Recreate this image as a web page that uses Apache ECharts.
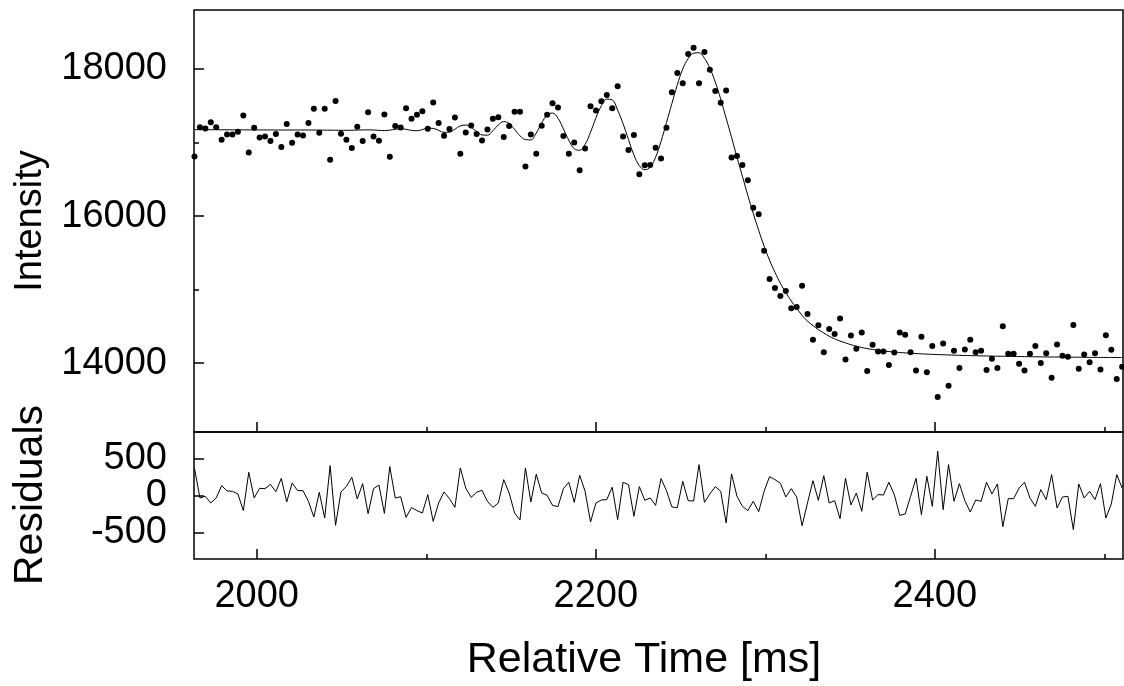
<!DOCTYPE html>
<html>
<head>
<meta charset="utf-8">
<script src="https://cdn.jsdelivr.net/npm/echarts@6/dist/echarts.min.js"></script>
<style>
html,body{margin:0;padding:0;background:#fff;}
#c{width:1124px;height:686px;}
</style>
</head>
<body>
<div id="c"></div>
<script>
const times = [
1963.3,1966.5,1969.7,1972.9,1976.1,1979.3,1982.5,1985.7,1988.9,1992.1,
1995.3,1998.5,2001.7,2004.9,2008.1,2011.3,2014.5,2017.7,2020.9,2024.1,
2027.3,2030.5,2033.7,2036.9,2040.1,2043.3,2046.5,2049.7,2052.9,2056.1,
2059.3,2062.5,2065.7,2068.9,2072.1,2075.3,2078.5,2081.7,2084.9,2088.1,
2091.3,2094.5,2097.7,2100.9,2104.1,2107.3,2110.5,2113.7,2116.9,2120.1,
2123.3,2126.5,2129.7,2132.9,2136.1,2139.3,2142.5,2145.7,2148.9,2152.1,
2155.3,2158.5,2161.7,2164.9,2168.1,2171.3,2174.5,2177.7,2180.9,2184.1,
2187.3,2190.5,2193.7,2196.9,2200.1,2203.3,2206.5,2209.7,2212.9,2216.1,
2219.3,2222.5,2225.7,2228.9,2232.1,2235.3,2238.5,2241.7,2244.9,2248.1,
2251.3,2254.5,2257.7,2260.9,2264.1,2267.3,2270.5,2273.7,2276.9,2280.1,
2283.3,2286.5,2289.7,2292.9,2296.1,2299.3,2302.5,2305.7,2308.9,2312.1,
2315.3,2318.5,2321.7,2324.9,2328.1,2331.3,2334.5,2337.7,2340.9,2344.1,
2347.3,2350.5,2353.7,2356.9,2360.1,2363.3,2366.5,2369.7,2372.9,2376.1,
2379.3,2382.5,2385.7,2388.9,2392.1,2395.3,2398.5,2401.7,2404.9,2408.1,
2411.3,2414.5,2417.7,2420.9,2424.1,2427.3,2430.5,2433.7,2436.9,2440.1,
2443.3,2446.5,2449.7,2452.9,2456.1,2459.3,2462.5,2465.7,2468.9,2472.1,
2475.3,2478.5,2481.7,2484.9,2488.1,2491.3,2494.5,2497.7,2500.9,2504.1,
2507.3,2510.5
];

const intensity = [
16811,17209,17191,17277,17209,17037,17109,17109,17146,17367,
16865,17200,17068,17082,17020,17114,16938,17250,16997,17109,
17096,17264,17458,17132,17458,16766,17566,17119,17037,16925,
17214,17020,17413,17082,17024,17381,16807,17223,17204,17467,
17322,17376,17426,17186,17543,17264,17091,17182,17340,16847,
17137,17231,17114,17028,17177,17322,17345,17074,17223,17417,
17417,16675,17109,16847,17227,17376,17535,17475,17087,16847,
17001,16621,16919,17494,17435,17562,17647,17467,17765,17082,
16898,17101,16567,16689,16694,16929,16784,17200,17684,17946,
17806,18203,18289,17806,18231,17991,17702,17539,17706,16797,
16816,16694,16485,16111,16024,15528,15143,15021,14912,14980,
14746,14763,15053,14668,14316,14515,14149,14465,14397,14606,
14050,14375,14194,14416,13891,14248,14158,14158,13973,14145,
14416,14384,14149,13901,14357,13874,14234,13539,14267,13692,
14167,13932,14186,14316,14149,14167,13905,14058,13932,14502,
14126,14126,13990,13901,14126,14234,14000,14135,13800,14253,
14099,14085,14519,13923,14118,14013,14135,13914,14380,14180,
13783,13950
];

const fit = [
17175,17175,17175,17174,17174,17173,17173,17172,17172,17172,
17171,17171,17171,17171,17171,17170,17170,17170,17170,17170,
17170,17170,17169,17169,17168,17168,17167,17166,17166,17167,
17169,17171,17172,17170,17165,17162,17168,17180,17186,17180,
17165,17160,17175,17195,17192,17165,17138,17140,17180,17225,
17238,17205,17150,17103,17100,17160,17240,17285,17260,17180,
17090,17040,17035,17130,17265,17375,17400,17330,17185,17030,
16915,16895,16975,17140,17335,17500,17590,17580,17440,17255,
17040,16830,16685,16630,16665,16800,17015,17270,17530,17785,
18000,18140,18215,18220,18145,18010,17820,17590,17330,17070,
16800,16540,16280,16035,15805,15590,15400,15235,15085,14960,
14845,14745,14650,14570,14510,14455,14410,14365,14330,14300,
14275,14250,14230,14212,14198,14185,14174,14165,14157,14150,
14144,14139,14134,14130,14126,14122,14119,14116,14113,14111,
14108,14106,14104,14102,14100,14098,14097,14095,14094,14093,
14091,14090,14089,14088,14087,14086,14085,14084,14083,14083,
14082,14081,14080,14080,14079,14078,14078,14077,14077,14076,
14076,14075
];

const residuals = [
370,-32,-9,-100,-32,136,64,59,23,-204,
318,-32,100,95,154,54,236,-86,173,68,
68,-77,-291,45,-304,409,-404,50,127,250,
-45,163,-245,95,145,-241,395,-32,-14,-295,
-163,-204,-236,14,-350,-100,50,-41,-159,377,
104,-23,45,73,-77,-159,-100,218,36,-236,
-331,377,-86,291,36,5,-132,-150,95,182,
-91,277,59,-359,-100,-59,-54,114,-327,182,
150,-281,123,-64,-32,-132,232,68,-154,-163,
195,-68,-73,422,-91,23,123,59,-372,295,
-9,-145,-204,-77,-218,59,259,218,168,-18,
95,-18,-409,-100,204,-64,272,-100,-68,-313,
236,-127,36,-213,318,-59,14,9,182,14,
-268,-250,-9,236,-259,263,-145,604,-191,422,
-77,163,-68,-222,-59,-77,182,23,159,-422,
-41,-41,104,182,-32,-145,82,-54,286,-168,
-18,-9,-463,159,-32,59,-54,163,-304,-114,
286,104
];

const xMajorTicks = [2000, 2200, 2400];
const xMinorTicks = [2100, 2300, 2500];
const yMajorTicks = [14000, 16000, 18000];
const yMinorTicks = [15000, 17000];
const resTicks = [-500, 0, 500];

const xTitle = 'Relative Time [ms]';
const yTitle = 'Intensity';
const resTitle = 'Residuals';

const FONT = 'Liberation Sans';
const FS = 38;
const XTFS = 43;
const RTFS = 41;

const X_MIN = 1963, X_MAX = 2511;
const Y_MIN = 13063, Y_MAX = 18802;
const R_MIN = -862, R_MAX = 866;

function pairs(xs, ys) { return xs.map((x, i) => [x, ys[i]]); }
function plain(v) { return String(v); }

const chart = echarts.init(document.getElementById('c'), null, {renderer: 'canvas'});

function xAx(grid, ticks, len, labels) {
  return {
    type: 'value', gridIndex: grid, min: X_MIN, max: X_MAX, position: 'bottom',
    axisLine: {show: false, onZero: false},
    splitLine: {show: false},
    axisTick: {show: true, inside: true, length: len, customValues: ticks,
      lineStyle: {color: '#000', width: 1.5}},
    axisLabel: labels ? {show: true, customValues: ticks, margin: 19, formatter: plain,
      hideOverlap: false, fontFamily: FONT, fontSize: FS, color: '#000'} : {show: false}
  };
}
function yAx(grid, min, max, ticks, len, labels) {
  return {
    type: 'value', gridIndex: grid, min: min, max: max, position: 'left',
    axisLine: {show: false, onZero: false},
    splitLine: {show: false},
    axisTick: {show: true, inside: true, length: len, customValues: ticks,
      lineStyle: {color: '#000', width: 1.5}},
    axisLabel: labels ? {show: true, customValues: ticks, margin: 27, formatter: plain,
      hideOverlap: false, fontFamily: FONT, fontSize: FS, color: '#000'} : {show: false}
  };
}

// one axis per residual tick so the tall labels are never culled as overlapping
const resAxes = resTicks.map(t => yAx(1, R_MIN, R_MAX, [t], 10, true));

const option = {
  animation: false,
  backgroundColor: '#fff',
  grid: [
    {left: 194, top: 10, width: 929, height: 422, show: true,
     borderColor: '#000', borderWidth: 1.5, backgroundColor: 'rgba(0,0,0,0)'},
    {left: 194, top: 432, width: 929, height: 127, show: true,
     borderColor: '#000', borderWidth: 1.5, backgroundColor: 'rgba(0,0,0,0)'}
  ],
  xAxis: [
    xAx(0, xMajorTicks, 10, false),
    xAx(0, xMinorTicks, 5, false),
    xAx(1, xMajorTicks, 10, true),
    xAx(1, xMinorTicks, 5, false)
  ],
  yAxis: [
    yAx(0, Y_MIN, Y_MAX, yMajorTicks, 10, true),
    yAx(0, Y_MIN, Y_MAX, yMinorTicks, 5, false)
  ].concat(resAxes),
  graphic: [
    {type: 'text', x: 644, y: 660, style: {text: xTitle, font: XTFS + 'px "' + FONT + '"',
      fill: '#000', align: 'center', verticalAlign: 'middle'}},
    {type: 'text', x: 31, y: 221, rotation: Math.PI / 2, style: {text: yTitle,
      font: FS + 'px "' + FONT + '"', fill: '#000', align: 'center', verticalAlign: 'middle'}},
    {type: 'text', x: 31, y: 495, rotation: Math.PI / 2, style: {text: resTitle,
      font: RTFS + 'px "' + FONT + '"', fill: '#000', align: 'center', verticalAlign: 'middle'}}
  ],
  series: [
    {type: 'scatter', xAxisIndex: 0, yAxisIndex: 0, data: pairs(times, intensity),
     symbol: 'circle', symbolSize: 6, itemStyle: {color: '#000', opacity: 1}, silent: true},
    {type: 'line', xAxisIndex: 0, yAxisIndex: 0, data: pairs(times, fit),
     showSymbol: false, smooth: 0.4, lineStyle: {color: '#000', width: 1}, silent: true},
    {type: 'line', xAxisIndex: 2, yAxisIndex: 2, data: pairs(times, residuals),
     showSymbol: false, lineStyle: {color: '#000', width: 1}, silent: true}
  ]
};
chart.setOption(option);
</script>
</body>
</html>
